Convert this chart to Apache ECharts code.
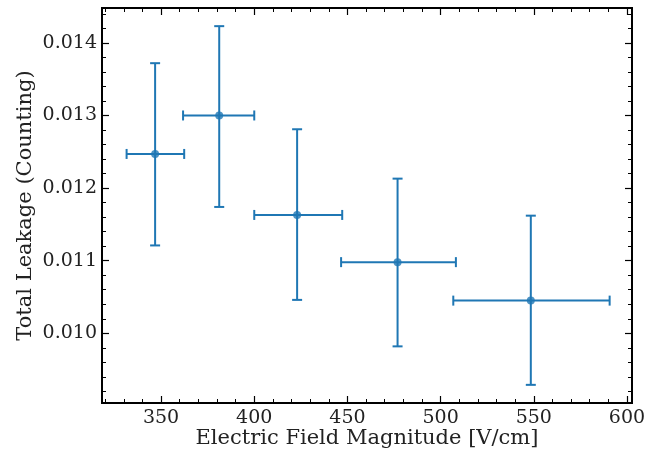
<!DOCTYPE html>
<html>
<head>
<meta charset="utf-8">
<script src="https://cdn.jsdelivr.net/npm/echarts@6/dist/echarts.min.js"></script>
<style>
  html, body { margin: 0; padding: 0; background: #fff; }
  #chart { width: 645px; height: 450px; }
</style>
</head>
<body>
<div id="chart"></div>
<script>
// measured points (field magnitude vs. total leakage)
const fieldVals = [346.8, 381.2, 423.0, 476.9, 548.4];
const leakVals = [0.01247, 0.01300, 0.01163, 0.01098, 0.01045];
// error bar ends
const fieldLow = [331.5, 361.8, 400.0, 446.6, 506.8];
const fieldHigh = [362.4, 400.0, 447.2, 508.2, 590.7];
const leakLow = [0.01121, 0.01174, 0.01046, 0.00982, 0.00929];
const leakHigh = [0.01372, 0.01423, 0.01281, 0.01213, 0.01162];

const xTicks = [350, 400, 450, 500, 550, 600];
const yTicks = [0.010, 0.011, 0.012, 0.013, 0.014];
const xMinorTicks = [];
for (let v = 320; v <= 600; v += 10) xMinorTicks.push(v);
const yMinorTicks = [];
for (let i = 46; i <= 144; i += 2) yMinorTicks.push(i / 10000);

const xMin = 318.3, xMax = 602.7;
const yMin = 0.00904, yMax = 0.01448;

const blue = '#1f77b4';
const font = 'DejaVu Serif';

const chart = echarts.init(document.getElementById('chart'));

function frameAxis(kind, pos, major, withLabels) {
  const ax = {
    type: 'value',
    position: pos,
    min: kind === 'x' ? xMin : yMin,
    max: kind === 'x' ? xMax : yMax,
    splitLine: { show: false },
    axisLine: { show: true, onZero: false, lineStyle: { color: '#000', width: 2 } },
    axisTick: {
      show: true,
      inside: true,
      length: major ? 7 : 4,
      customValues: major ? (kind === 'x' ? xTicks : yTicks) : (kind === 'x' ? xMinorTicks : yMinorTicks),
      lineStyle: { color: '#000', width: major ? 1.2 : 1 }
    },
    axisLabel: { show: false }
  };
  if (withLabels) {
    ax.axisLabel = {
      show: true,
      customValues: kind === 'x' ? xTicks : yTicks,
      fontFamily: font,
      fontSize: 19,
      color: '#222',
      margin: kind === 'x' ? 6 : 5,
      formatter: kind === 'x' ? (v) => String(Math.round(v)) : (v) => v.toFixed(3)
    };
  }
  return ax;
}

const xAxes = [
  frameAxis('x', 'bottom', true, true),
  frameAxis('x', 'bottom', false, false),
  frameAxis('x', 'top', true, false),
  frameAxis('x', 'top', false, false)
];
xAxes[0].name = 'Electric Field Magnitude [V/cm]';
xAxes[0].nameLocation = 'middle';
xAxes[0].nameGap = 25;
xAxes[0].nameMoveOverlap = false;
xAxes[0].nameTextStyle = { fontFamily: font, fontSize: 21, color: '#222' };

const yAxes = [
  frameAxis('y', 'left', true, true),
  frameAxis('y', 'left', false, false),
  frameAxis('y', 'right', true, false),
  frameAxis('y', 'right', false, false)
];
yAxes[0].name = 'Total Leakage (Counting)';
yAxes[0].nameLocation = 'middle';
yAxes[0].nameGap = 66;
yAxes[0].nameMoveOverlap = false;
yAxes[0].nameTextStyle = { fontFamily: font, fontSize: 21, color: '#222' };

const errData = fieldVals.map((x, i) => [x, leakVals[i], fieldLow[i], fieldHigh[i], leakLow[i], leakHigh[i]]);
const pointData = fieldVals.map((x, i) => [x, leakVals[i]]);

chart.setOption({
  animation: false,
  backgroundColor: '#fff',
  grid: { left: 102, right: 13, top: 8, bottom: 47, containLabel: false, outerBoundsMode: 'none' },
  xAxis: xAxes,
  yAxis: yAxes,
  series: [
    {
      type: 'custom',
      xAxisIndex: 0,
      yAxisIndex: 0,
      data: errData,
      renderItem: function (params, api) {
        const c = api.coord([api.value(0), api.value(1)]);
        const l = api.coord([api.value(2), api.value(1)]);
        const r = api.coord([api.value(3), api.value(1)]);
        const b = api.coord([api.value(0), api.value(4)]);
        const t = api.coord([api.value(0), api.value(5)]);
        const cap = 5;
        const st = { stroke: blue, lineWidth: 2 };
        const seg = (x1, y1, x2, y2) => ({ type: 'line', shape: { x1, y1, x2, y2 }, style: st });
        return {
          type: 'group',
          children: [
            seg(l[0], c[1], r[0], c[1]),
            seg(c[0], t[1], c[0], b[1]),
            seg(l[0], c[1] - cap, l[0], c[1] + cap),
            seg(r[0], c[1] - cap, r[0], c[1] + cap),
            seg(c[0] - cap, t[1], c[0] + cap, t[1]),
            seg(c[0] - cap, b[1], c[0] + cap, b[1])
          ]
        };
      },
      z: 2
    },
    {
      type: 'scatter',
      xAxisIndex: 0,
      yAxisIndex: 0,
      data: pointData,
      symbol: 'circle',
      symbolSize: 8,
      itemStyle: { color: blue },
      z: 3
    }
  ]
});
</script>
</body>
</html>
